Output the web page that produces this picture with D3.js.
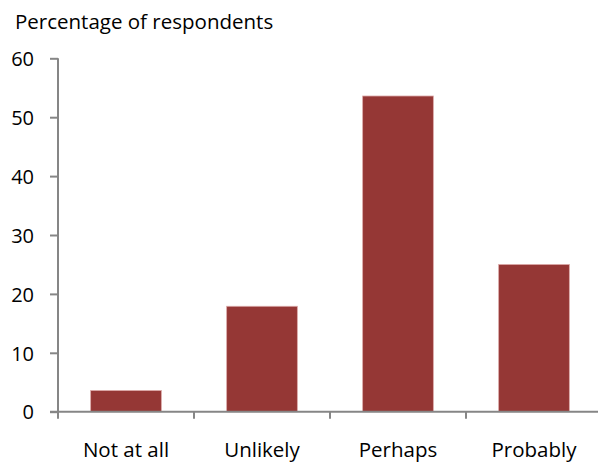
<!DOCTYPE html>
<html>
<head>
<meta charset="utf-8">
<script src="https://cdn.jsdelivr.net/npm/d3@7"></script>
<style>
  html, body { margin: 0; padding: 0; background: #fff; }
  svg { display: block; }
  text { font-family: "Open Sans", sans-serif; fill: #000; }
</style>
</head>
<body>
<svg id="chart" width="598" height="464"></svg>
<script>
const categories = ["Not at all", "Unlikely", "Perhaps", "Probably"];
const values = [3.6, 17.9, 53.6, 25.0];
const yTicks = [0, 10, 20, 30, 40, 50, 60];
const yTitle = "Percentage of respondents";

const svg = d3.select("#chart");
const mLeft = 58, mRight = 602, mTop = 58.3, mBottom = 411.7;
const fontFam = "'Open Sans', sans-serif";

const x = d3.scaleBand().domain(categories).range([mLeft, mRight])
  .paddingInner(0.48).paddingOuter(0.24);
const y = d3.scaleLinear().domain([0, 60]).range([mBottom, mTop]);

const axisColor = "#868686";

// bars
svg.append("g").selectAll("rect").data(values).join("rect")
  .attr("x", (d, i) => x(categories[i]))
  .attr("y", d => y(d))
  .attr("width", x.bandwidth())
  .attr("height", d => y(0) - y(d))
  .attr("fill", "#953735")
  .attr("stroke", "#dcaaa9")
  .attr("stroke-width", 0.8);

// y axis
const yAxis = d3.axisLeft(y).tickValues(yTicks).tickSize(8).tickPadding(16).tickFormat(d3.format("d"));
const gy = svg.append("g").attr("transform", `translate(${mLeft},0)`).call(yAxis);
gy.select(".domain").attr("stroke", axisColor).attr("stroke-width", 2)
  .attr("d", `M0,${mTop}V${mBottom + 6}`);
gy.selectAll(".tick line").attr("stroke", axisColor).attr("stroke-width", 2);
gy.selectAll(".tick text").attr("font-size", 20).attr("font-family", fontFam)
  .attr("fill", "#000").attr("dy", "0.36em");

// x axis
const xAxis = d3.axisBottom(x).tickSize(0).tickPadding(31);
const gx = svg.append("g").attr("transform", `translate(0,${mBottom})`).call(xAxis);
gx.select(".domain").attr("stroke", axisColor).attr("stroke-width", 2)
  .attr("d", `M${mLeft - 8},0H${mRight}`);
gx.selectAll(".tick text").attr("font-size", 20.5).attr("font-family", fontFam)
  .attr("fill", "#000");
// category boundary ticks
const bounds = categories.map(c => x(c) - x.step() * x.paddingOuter()).concat([mRight]);
gx.append("g").selectAll("line").data(bounds).join("line")
  .attr("x1", d => d).attr("x2", d => d)
  .attr("y1", 0).attr("y2", 7)
  .attr("stroke", axisColor).attr("stroke-width", 2);

// title
svg.append("text").attr("x", 15).attr("y", 28.5)
  .attr("font-size", 20.5).attr("font-family", fontFam).text(yTitle);
</script>
</body>
</html>
